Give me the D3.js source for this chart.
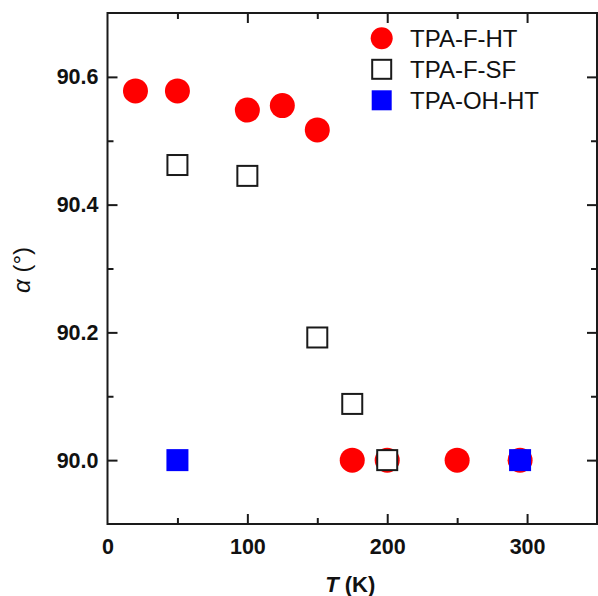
<!DOCTYPE html>
<html>
<head>
<meta charset="utf-8">
<script src="https://cdn.jsdelivr.net/npm/d3@7"></script>
<style>
  html, body { margin: 0; padding: 0; background: #fff; }
  svg { display: block; font-family: "Liberation Sans", Arial, sans-serif; }
</style>
</head>
<body>
<svg id="chart" width="598" height="596"></svg>
<script>
// ---- data ----
const hfT     = [20, 50, 100, 125, 150, 175, 200, 250, 295];
const hfAlpha = [90.578, 90.578, 90.548, 90.555, 90.517, 90.0, 90.0, 90.0, 90.0];

const sfT     = [50, 100, 150, 175, 200];
const sfAlpha = [90.462, 90.445, 90.192, 90.088, 90.0];

const ohT     = [50, 295];
const ohAlpha = [90.0, 90.0];

const xTicks = [0, 100, 200, 300];
const xMinor = [50, 150, 250];
const yTicks = [90.0, 90.2, 90.4, 90.6];
const yMinor = [90.1, 90.3, 90.5];

const legendLabels = ["TPA-F-HT", "TPA-F-SF", "TPA-OH-HT"];

// ---- layout ----
const L = 107.5, R = 597, T = 13, B = 524;
const svg = d3.select("#chart");
const x = d3.scaleLinear().domain([0, 350]).range([L, R]);
const y = d3.scaleLinear().domain([89.9, 90.7]).range([B, T]);

const axisColor = "#1a1a1a";
const fontTick = "bold 21.5px 'Liberation Sans', Arial, sans-serif";

const gBottom = svg.append("g").attr("transform", `translate(0,${B})`)
  .call(d3.axisBottom(x).tickValues(xTicks).tickSizeInner(-10).tickSizeOuter(0).tickPadding(15)
    .tickFormat(d3.format("d")));
const gBottomMinor = svg.append("g").attr("transform", `translate(0,${B})`)
  .call(d3.axisBottom(x).tickValues(xMinor).tickSizeInner(-6).tickSizeOuter(0).tickFormat(""));
const gTop = svg.append("g").attr("transform", `translate(0,${T})`)
  .call(d3.axisTop(x).tickValues(xTicks).tickSizeInner(-10).tickSizeOuter(0).tickFormat(""));
const gTopMinor = svg.append("g").attr("transform", `translate(0,${T})`)
  .call(d3.axisTop(x).tickValues(xMinor).tickSizeInner(-6).tickSizeOuter(0).tickFormat(""));
const gLeft = svg.append("g").attr("transform", `translate(${L},0)`)
  .call(d3.axisLeft(y).tickValues(yTicks).tickSizeInner(-10).tickSizeOuter(0).tickPadding(9)
    .tickFormat(d3.format(".1f")));
const gLeftMinor = svg.append("g").attr("transform", `translate(${L},0)`)
  .call(d3.axisLeft(y).tickValues(yMinor).tickSizeInner(-6).tickSizeOuter(0).tickFormat(""));
const gRight = svg.append("g").attr("transform", `translate(${R},0)`)
  .call(d3.axisRight(y).tickValues(yTicks).tickSizeInner(-10).tickSizeOuter(0).tickFormat(""));
const gRightMinor = svg.append("g").attr("transform", `translate(${R},0)`)
  .call(d3.axisRight(y).tickValues(yMinor).tickSizeInner(-6).tickSizeOuter(0).tickFormat(""));

[gBottom, gBottomMinor, gTop, gTopMinor, gLeft, gLeftMinor, gRight, gRightMinor].forEach(g => {
  g.select(".domain").remove();
  g.selectAll(".tick line").attr("stroke", axisColor).attr("stroke-width", 2);
  g.selectAll(".tick text").attr("fill", "#111").style("font", fontTick);
});
gBottom.selectAll(".tick").filter(d => d === 0).select("line").remove();
gTop.selectAll(".tick").filter(d => d === 0).select("line").remove();

// frame
svg.append("rect").attr("x", L).attr("y", T).attr("width", R - L).attr("height", B - T)
  .attr("fill", "none").attr("stroke", axisColor).attr("stroke-width", 2);

// ---- marks ----
const plot = svg.append("g");
plot.selectAll("circle.hf").data(hfT.map((t, i) => [t, hfAlpha[i]])).join("circle")
  .attr("class", "hf").attr("cx", d => x(d[0])).attr("cy", d => y(d[1])).attr("r", 12.5)
  .attr("fill", "#ff0000");

const sq = 20;
plot.selectAll("rect.sf").data(sfT.map((t, i) => [t, sfAlpha[i]])).join("rect")
  .attr("class", "sf").attr("x", d => x(d[0]) - sq / 2).attr("y", d => y(d[1]) - sq / 2)
  .attr("width", sq).attr("height", sq).attr("fill", "#fff").attr("stroke", "#1a1a1a").attr("stroke-width", 2);

const sqb = 22;
plot.selectAll("rect.oh").data(ohT.map((t, i) => [t, ohAlpha[i]])).join("rect")
  .attr("class", "oh").attr("x", d => x(d[0]) - sqb / 2).attr("y", d => y(d[1]) - sqb / 2)
  .attr("width", sqb).attr("height", sqb).attr("fill", "#0000ff");

// ---- legend ----
const lg = svg.append("g");
const lx = 381.7, ly0 = 38.3, ldy = 31;
lg.append("circle").attr("cx", lx).attr("cy", ly0).attr("r", 11).attr("fill", "#ff0000");
lg.append("rect").attr("x", lx - 9.5).attr("y", ly0 + ldy - 9.5).attr("width", 19).attr("height", 19)
  .attr("fill", "#fff").attr("stroke", "#1a1a1a").attr("stroke-width", 2);
lg.append("rect").attr("x", lx - 10).attr("y", ly0 + 2 * ldy - 10).attr("width", 20).attr("height", 20)
  .attr("fill", "#0000ff");
lg.selectAll("text").data(legendLabels).join("text")
  .attr("x", 410).attr("y", (d, i) => ly0 + i * ldy + 8.5)
  .style("font", "24px 'Liberation Sans', Arial, sans-serif").attr("fill", "#111").text(d => d);

// ---- axis titles ----
const xt = svg.append("text").attr("x", (L + R) / 2 - 2).attr("y", 591.5).attr("text-anchor", "middle")
  .style("font", "bold 22px 'Liberation Sans', Arial, sans-serif").attr("fill", "#111");
xt.append("tspan").style("font-style", "italic").text("T");
xt.append("tspan").text(" (K)");

const yt = svg.append("text").attr("transform", `translate(30,270) rotate(-90)`)
  .attr("text-anchor", "middle")
  .style("font", "24px 'Liberation Sans', Arial, sans-serif").attr("fill", "#111");
yt.append("tspan").style("font-style", "italic").text("α");
yt.append("tspan").text(" (°)");
</script>
</body>
</html>
